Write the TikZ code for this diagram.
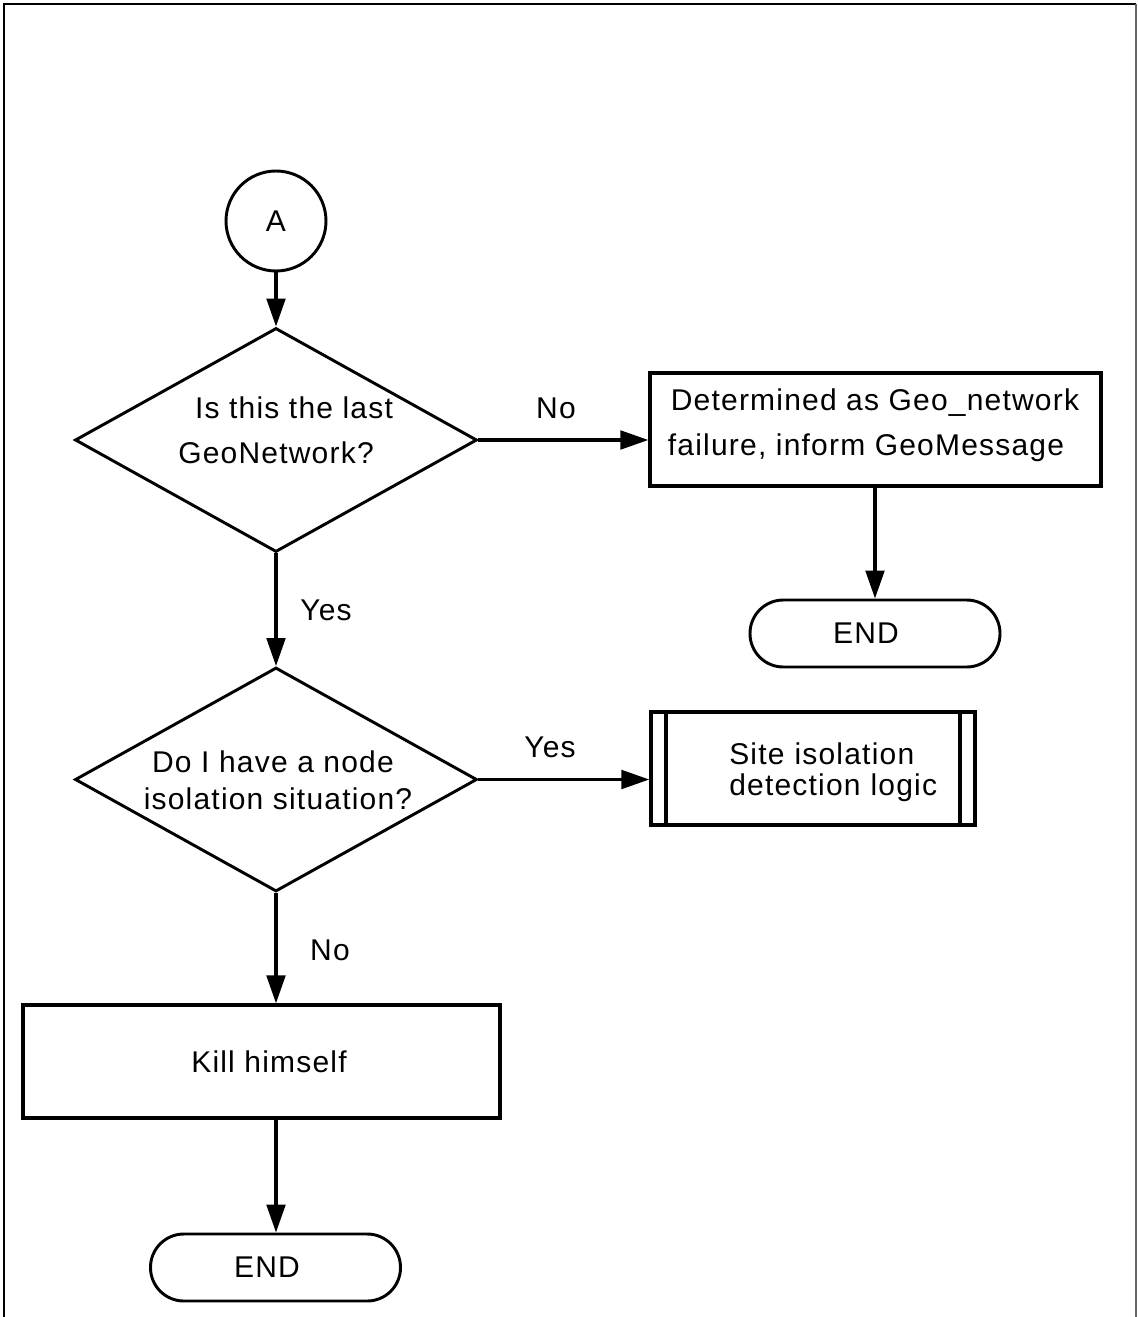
\documentclass[tikz,border=0pt]{standalone}
\usepackage{fontspec}
\setmainfont{Liberation Sans}[LetterSpace=4]
\usetikzlibrary{arrows.meta,shapes.geometric}
\begin{document}
\begin{tikzpicture}[x=0.75pt,y=-0.75pt,
  every node/.style={font=\fontsize{22.5}{27}\selectfont, inner sep=0pt},
  shapeline/.style={draw, line width=2.5pt},
  flow/.style={line width=2.4pt, -{Triangle[length=21pt,width=14pt]}},
  connector/.style={draw, line width=2.2pt, circle, minimum size=75pt},
  decision/.style={draw, line width=2.2pt, diamond, minimum width=301.5pt, minimum height=168pt},
  process/.style={shapeline, rectangle, minimum height=84.75pt},
  terminal/.style={draw, line width=2.2pt, rectangle, rounded corners=25pt, minimum width=187.5pt, minimum height=50.25pt},
  lbl/.style={}]
  % page area and frame
  \useasboundingbox (0,0) rectangle (1138,1317);
  \draw[line width=1.1pt] (4,1317) -- (4,4) -- (1136,4);
  \draw[line width=1.1pt, black!60] (1136,4) -- (1136,1317);

  % shapes
  \node[connector] (a) at (276,221) {A};
  \node[decision] (d1) at (276,440) {};
  \node[lbl] at (294,408) {Is this the last};
  \node[lbl] at (276,453) {GeoNetwork?};

  \node[process, minimum width=338.25pt] (b1) at (875.5,429.5) {};
  \node[lbl] at (875,403) {Determined as Geo\_network};
  \node[lbl] at (866,448) {failure, inform GeoMessage};

  \node[terminal] (e1) at (875,633.5) {};
  \node[lbl] at (866,633) {END};

  \node[decision] (d2) at (276,779.5) {};
  \node[lbl] at (273,762) {Do I have a node};
  \node[lbl] at (278,799) {isolation situation?};

  \node[process, minimum width=243pt] (b2) at (813,768.5) {};
  \draw[line width=2.5pt] ([xshift=12.5pt]b2.north west) -- ([xshift=12.5pt]b2.south west);
  \draw[line width=2.5pt] ([xshift=-12.5pt]b2.north east) -- ([xshift=-12.5pt]b2.south east);
  \node[lbl, align=left, anchor=west, text width=190pt] at (729,772) {Site isolation\\[-4pt]detection logic};

  \node[process, minimum width=357.75pt] (b3) at (261.5,1061.5) {};
  \node[lbl] at (269,1062) {Kill himself};

  \node[terminal] (e2) at (275.5,1267.5) {};
  \node[lbl] at (267,1267) {END};

  % connectors
  \draw[flow] (a) -- (d1);
  \draw[flow] (d1.east) -- (b1.west |- d1.east);
  \node[lbl] at (556,408) {No};
  \draw[flow] (b1.south -| e1) -- (e1.north);
  \draw[flow] (d1.south) -- (d2.north);
  \node[lbl] at (326,610) {Yes};
  \draw[flow] (d2.east) -- (b2.west |- d2.east);
  \node[lbl] at (550,747) {Yes};
  \draw[flow] (d2.south) -- (d2.south |- b3.north);
  \node[lbl] at (330,950) {No};
  \draw[flow] (d2.south |- b3.south) -- (e2.north -| d2.south);
\end{tikzpicture}
\end{document}
